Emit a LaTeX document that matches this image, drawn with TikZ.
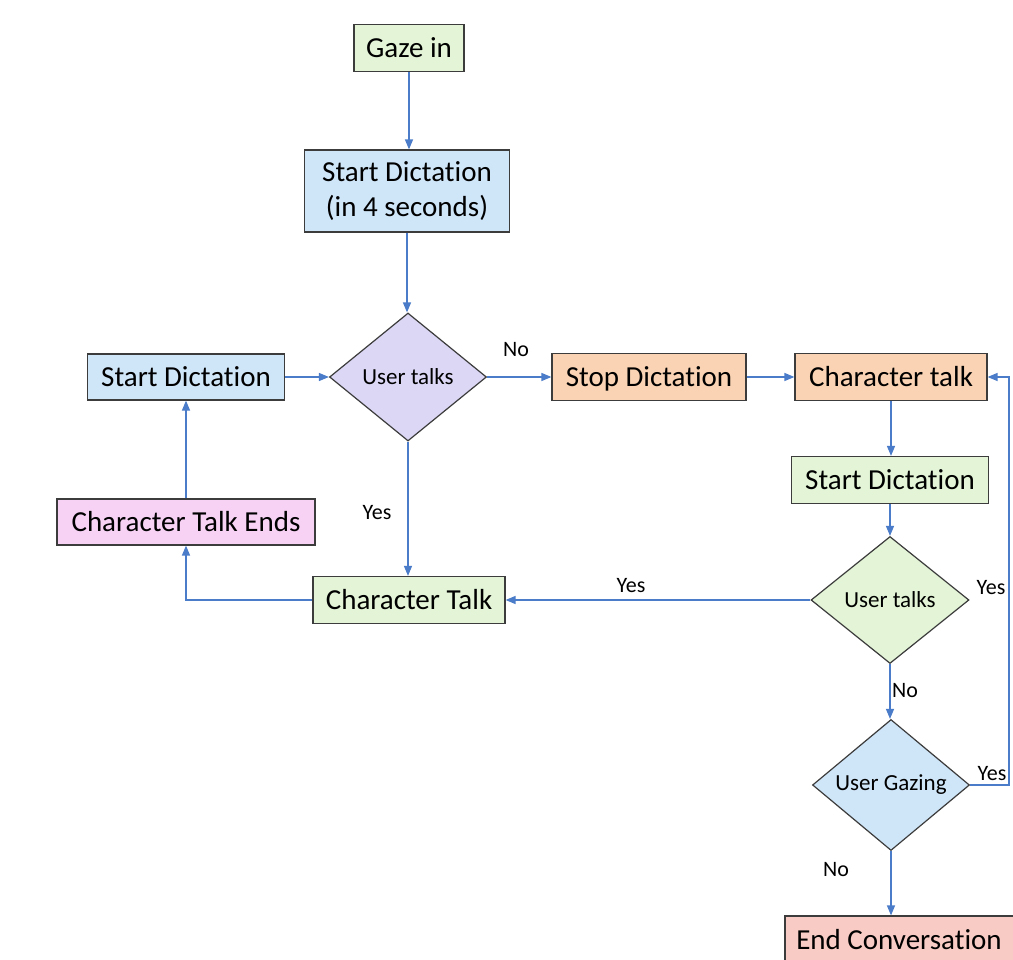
\documentclass[tikz,border=0pt]{standalone}
\usepackage{fontspec}
\setmainfont[RawFeature={-liga;-clig;-calt;-rlig;-dlig}]{Carlito}
\usetikzlibrary{shapes.geometric,arrows.meta}
\definecolor{boxline}{HTML}{3C3C3C}
\definecolor{flow}{HTML}{4A7CC9}
\definecolor{fgreen}{HTML}{E3F5D6}
\definecolor{fblue}{HTML}{CFE5F8}
\definecolor{fpurple}{HTML}{DCD7F5}
\definecolor{forange}{HTML}{F9D3B3}
\definecolor{fpink}{HTML}{F7D2F4}
\definecolor{fred}{HTML}{F8CBC4}
\begin{document}
\begin{tikzpicture}[x=1pt,y=-1pt,
  box/.style={draw=boxline, line width=1.2pt, inner sep=0pt, align=center,
    font=\fontsize{29}{35}\selectfont},
  decision/.style={diamond, draw=boxline, line width=1.2pt, inner sep=0pt,
    font=\fontsize{23}{27}\selectfont},
  arr/.style={draw=flow, line width=1.3pt, -{Triangle[length=10pt,width=8pt]}},
  lbl/.style={font=\fontsize{22}{26}\selectfont, inner sep=0pt}]
\useasboundingbox (0,0) rectangle (1013,960);
\fill[white] (0,0) rectangle (1013,960);

% boxes
\node[box, fill=fgreen, minimum width=110pt, minimum height=47pt] (gaze) at (409,48) {Gaze in};
\node[box, fill=fblue, minimum width=205pt, minimum height=82pt] (sd4) at (407,191) {Start Dictation\\(in 4 seconds)};
\node[decision, fill=fpurple, minimum width=157pt, minimum height=128pt] (d1) at (408,377) {User talks};
\node[box, fill=fblue, minimum width=197pt, minimum height=46pt] (sdl) at (186,377) {Start Dictation};
\node[box, fill=forange, minimum width=194pt, minimum height=47pt, text depth=0pt] (stop) at (649,377) {Stop Dictation};
\node[box, fill=forange, minimum width=192pt, minimum height=47pt] (chr) at (891,377) {Character talk};
\node[box, fill=fgreen, minimum width=197pt, minimum height=47pt] (sdg) at (890,480) {Start Dictation};
\node[box, fill=fpink, minimum width=258pt, minimum height=46pt] (ends) at (186,522) {Character Talk Ends};
\node[box, fill=fgreen, minimum width=192pt, minimum height=47pt] (ct) at (409,600) {Character Talk};
\node[decision, fill=fgreen, minimum width=158pt, minimum height=127pt] (d2) at (890,600) {User talks};
\node[decision, fill=fblue, minimum width=157pt, minimum height=126pt] (d3) at (891,785) {User Gazing};
\node[box, fill=fred, minimum width=233pt, minimum height=56pt] (endc) at (901.5,944) {};
\node[font=\fontsize{29}{35}\selectfont, inner sep=0pt] (endt) at (899,940) {End Conversation};

% connectors
\coordinate (rt) at (1009,785);
\draw[arr] (gaze.south) -- (gaze.south |- sd4.north);
\draw[arr] (sd4.south) -- (sd4.south |- d1.north);
\draw[arr] (sdl.east) -- (d1.west);
\draw[arr] (d1.east) -- (stop.west);
\draw[arr] (stop.east) -- (chr.west);
\draw[arr] (chr.south) -- (chr.south |- sdg.north);
\draw[arr] (sdg.south) -- (d2.north);
\draw[arr] (d2.west) -- (ct.east);
\draw[arr] (d1.south) -- (d1.south |- ct.north);
\draw[arr] (ct.west) -| (ends.south);
\draw[arr] (ends.north) -- (sdl.south);
\draw[arr] (d2.south) -- (d2.south |- d3.north);
\draw[arr] (d3.east) -- (rt) |- (chr.east);
\draw[arr] (d3.south) -- (d3.south |- endc.north);

% branch labels
\node[lbl] (l1) at (516,350) {No};
\node[lbl] (l2) at (377,513) {Yes};
\node[lbl] (l3) at (631,586) {Yes};
\node[lbl] (l4) at (991,588) {Yes};
\node[lbl] (l5) at (905,691) {No};
\node[lbl] (l6) at (992,774) {Yes};
\node[lbl] (l7) at (836,870) {No};
\end{tikzpicture}
\end{document}
